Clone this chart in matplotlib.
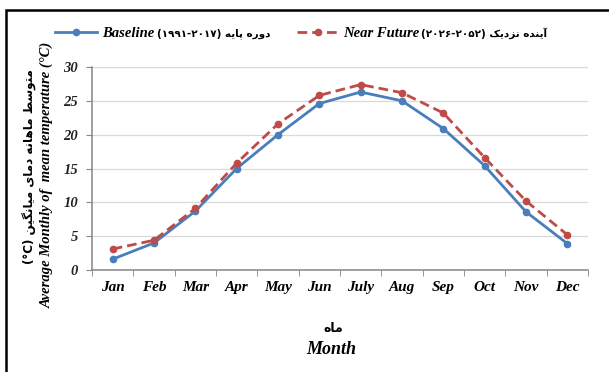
import matplotlib
matplotlib.use("Agg")
import matplotlib.pyplot as plt
from matplotlib.patches import Rectangle
from matplotlib.ticker import MultipleLocator, FixedLocator

months = ["Jan", "Feb", "Mar", "Apr", "May", "Jun", "July", "Aug", "Sep", "Oct", "Nov", "Dec"]
baseline = [1.6, 4.0, 8.7, 15.0, 20.0, 24.6, 26.3, 25.0, 20.9, 15.4, 8.6, 3.9]
near_future = [3.1, 4.4, 9.1, 15.8, 21.6, 25.8, 27.4, 26.2, 23.2, 16.6, 10.2, 5.2]

# simple Persian shaping with presentation forms (matplotlib has no RTL shaping)
FORMS = {
    "ا": ("\uFE8D", "\uFE8E", None, None),
    "آ": ("\uFE81", "\uFE82", None, None),
    "د": ("\uFEA9", "\uFEAA", None, None),
    "ر": ("\uFEAD", "\uFEAE", None, None),
    "ز": ("\uFEAF", "\uFEB0", None, None),
    "و": ("\uFEED", "\uFEEE", None, None),
    "ب": ("\uFE8F", "\uFE90", "\uFE91", "\uFE92"),
    "پ": ("\uFB56", "\uFB57", "\uFB58", "\uFB59"),
    "ت": ("\uFE95", "\uFE96", "\uFE97", "\uFE98"),
    "ه": ("\uFEE9", "\uFEEA", "\uFEEB", "\uFEEC"),
    "ی": ("\uFBFC", "\uFBFD", "\uFBFE", "\uFBFF"),
    "ن": ("\uFEE5", "\uFEE6", "\uFEE7", "\uFEE8"),
    "ک": ("\uFB8E", "\uFB8F", "\uFB90", "\uFB91"),
    "م": ("\uFEE1", "\uFEE2", "\uFEE3", "\uFEE4"),
    "س": ("\uFEB1", "\uFEB2", "\uFEB3", "\uFEB4"),
    "ط": ("\uFEC1", "\uFEC2", "\uFEC3", "\uFEC4"),
    "گ": ("\uFB92", "\uFB93", "\uFB94", "\uFB95"),
}


def shape(s):
    out = []
    for i, c in enumerate(s):
        if c not in FORMS:
            out.append(c)
            continue
        prev = s[i - 1] if i > 0 else ""
        nxt = s[i + 1] if i + 1 < len(s) else ""
        jp = prev in FORMS and FORMS[prev][2] is not None
        jn = nxt in FORMS and FORMS[c][2] is not None
        iso, fin, ini, med = FORMS[c]
        if jp and jn:
            out.append(med)
        elif jp:
            out.append(fin)
        elif jn:
            out.append(ini)
        else:
            out.append(iso)
    return "".join(out)[::-1]


SERIF = dict(family="Liberation Serif", style="italic", weight="bold")
FA = dict(family="DejaVu Sans", weight="bold")
W, H = 609, 372

fig = plt.figure(figsize=(6.09, 3.72), dpi=100)
fig.add_artist(Rectangle((6 / W, -0.1), 1.2, 1 - 10 / H + 0.1, transform=fig.transFigure,
                         fill=False, edgecolor="black", linewidth=1.8))

ax = fig.add_axes([92 / W, 1 - 270 / H, (588 - 92) / W, (270 - 67) / H])
x = range(len(months))
ax.plot(x, baseline, color="#4A7EBB", lw=2.0, marker="o", ms=4.5, label="Baseline")
ax.plot(x, near_future, color="#BE4B48", lw=2.0, ls=(0, (3.5, 1.8)), marker="o", ms=4.5,
        label="Near Future")

ax.set_xlim(-0.5, len(months) - 0.5)
ax.set_ylim(0, 30)
ax.yaxis.set_major_locator(MultipleLocator(5))
ax.set_xticks(list(x))
ax.set_xticklabels(months, **SERIF, fontsize=11)
ax.xaxis.set_minor_locator(FixedLocator([i - 0.5 for i in range(len(months) + 1)]))
ax.tick_params(axis="x", which="major", length=0, pad=8)
ax.tick_params(axis="x", which="minor", length=4, color="#868686", direction="out")
ax.tick_params(axis="y", length=4, color="#868686", direction="out", pad=6)
for t in ax.get_yticklabels():
    t.set(**SERIF, fontsize=10.5, color="#222222")
ax.grid(axis="y", color="#D9D9D9", lw=0.9)
ax.set_axisbelow(True)
for s in ["top", "right"]:
    ax.spines[s].set_visible(False)
for s in ["left", "bottom"]:
    ax.spines[s].set_color("#868686")
    ax.spines[s].set_linewidth(1.1)

leg = ax.legend(loc="center left", bbox_to_anchor=((55 - 92) / 496, (270 - 33) / 203), ncol=2,
                frameon=False, prop=dict(family="Liberation Serif", style="italic", weight="bold", size=10.5),
                handlelength=2.9, handletextpad=0.3, columnspacing=9.8, borderaxespad=0, borderpad=0)

# Persian parts of the legend labels, placed right after each English label
fig.canvas.draw()
extras = ["(۱۹۹۱-۲۰۱۷) " + shape("دوره پایه"), "(۲۰۲۶-۲۰۵۲) " + shape("آینده نزدیک")]
gaps = [3, 1]
for t, extra, g in zip(leg.get_texts(), extras, gaps):
    bb = t.get_window_extent()
    fig.text((bb.x1 + g) / W, (bb.y0 + bb.y1) / 2 / H, extra, ha="left", va="center",
             fontsize=7.5, **FA)

fig.text(30 / W, 1 - 167 / H, "(°C) " + shape("متوسط ماهانه دمای میانگین"), rotation=90,
         ha="center", va="center", fontsize=8.6, **FA)
fig.text(47 / W, 1 - 175 / H, "Average Monthly of  mean temperature (°C)", rotation=90,
         ha="center", va="center", fontsize=10.5, **SERIF)
fig.text(333 / W, 1 - 328 / H, shape("ماه"), ha="center", va="center", fontsize=9, **FA)
fig.text(331 / W, 1 - 349 / H, "Month", ha="center", va="center", fontsize=13, **SERIF)

fig.savefig("out.png", dpi=100)
